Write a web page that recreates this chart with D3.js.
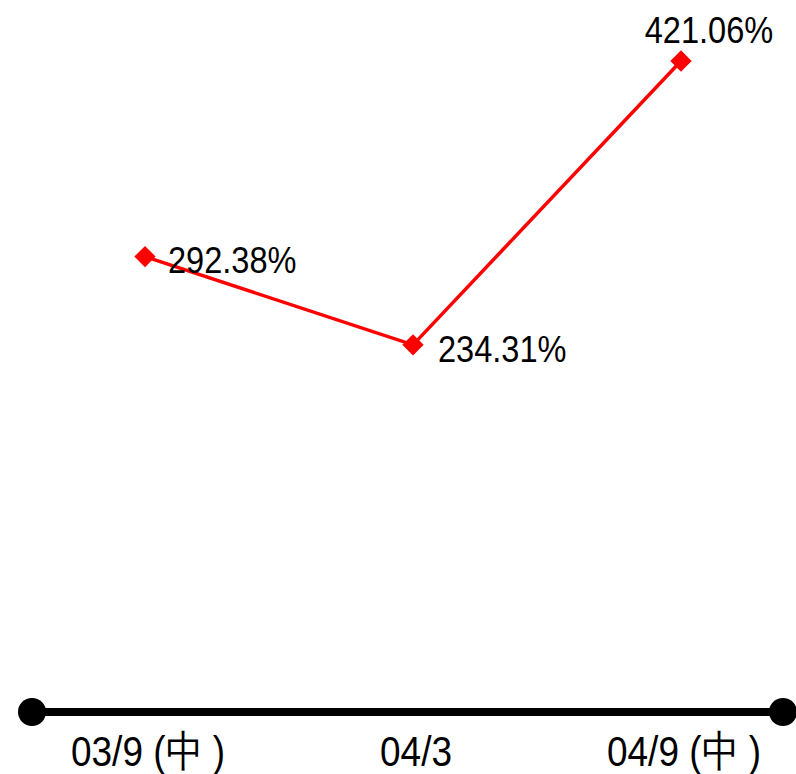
<!DOCTYPE html>
<html>
<head>
<meta charset="utf-8">
<script src="https://cdn.jsdelivr.net/npm/d3@7"></script>
<style>
  html, body { margin: 0; padding: 0; background: #fff; }
  svg { display: block; }
</style>
</head>
<body>
<svg id="chart" width="796" height="774"></svg>
<script>
// Periods and ratio values (%)
const categories = ["03/9 (中 )", "04/3", "04/9 (中 )"];
const values = [292.38, 234.31, 421.06];
const valueLabels = ["292.38%", "234.31%", "421.06%"];

const svg = d3.select("#chart");

const x = d3.scalePoint().domain(categories).range([145, 681]).padding(0);
const y = d3.scaleLinear().domain([0, 450]).range([701, 17]);

const data = categories.map((c, i) => ({ cat: c, v: values[i], label: valueLabels[i] }));

// Condensed text: regular face squeezed horizontally
const FONT = "'Liberation Sans', Arial, sans-serif";

// Baseline axis with round end caps
const axisY = 712;
svg.append("line")
  .attr("x1", 32).attr("x2", 783)
  .attr("y1", axisY).attr("y2", axisY)
  .attr("stroke", "#000").attr("stroke-width", 8);
[32, 783].forEach(cx => svg.append("circle")
  .attr("cx", cx).attr("cy", axisY).attr("r", 14).attr("fill", "#000"));

// Category labels
svg.append("g").selectAll("text").data(categories).join("text")
  .attr("transform", d => `translate(${x(d) + 3},766) scale(0.86,1)`)
  .attr("text-anchor", "middle")
  .attr("font-family", FONT)
  .attr("font-size", 43)
  .attr("fill", "#000")
  .text(d => d);

// Series line
svg.append("path")
  .datum(data)
  .attr("fill", "none")
  .attr("stroke", "#ff0000")
  .attr("stroke-width", 3.5)
  .attr("d", d3.line().x(d => x(d.cat)).y(d => y(d.v)));

// Diamond markers
svg.append("g").selectAll("path").data(data).join("path")
  .attr("transform", d => `translate(${x(d.cat)},${y(d.v)})`)
  .attr("d", d3.symbol().type(d3.symbolDiamond2).size(290))
  .attr("fill", "#ff0000");

// Value labels
const offsets = [
  { dx: 23, dy: 16, anchor: "start" },
  { dx: 25, dy: 17, anchor: "start" },
  { dx: 28, dy: -18, anchor: "middle" }
];
svg.append("g").selectAll("text").data(data).join("text")
  .attr("transform", (d, i) => `translate(${x(d.cat) + offsets[i].dx},${y(d.v) + offsets[i].dy}) scale(0.88,1)`)
  .attr("text-anchor", (d, i) => offsets[i].anchor)
  .attr("font-family", FONT)
  .attr("font-size", 37)
  .attr("fill", "#000")
  .text(d => d.label);
</script>
</body>
</html>
